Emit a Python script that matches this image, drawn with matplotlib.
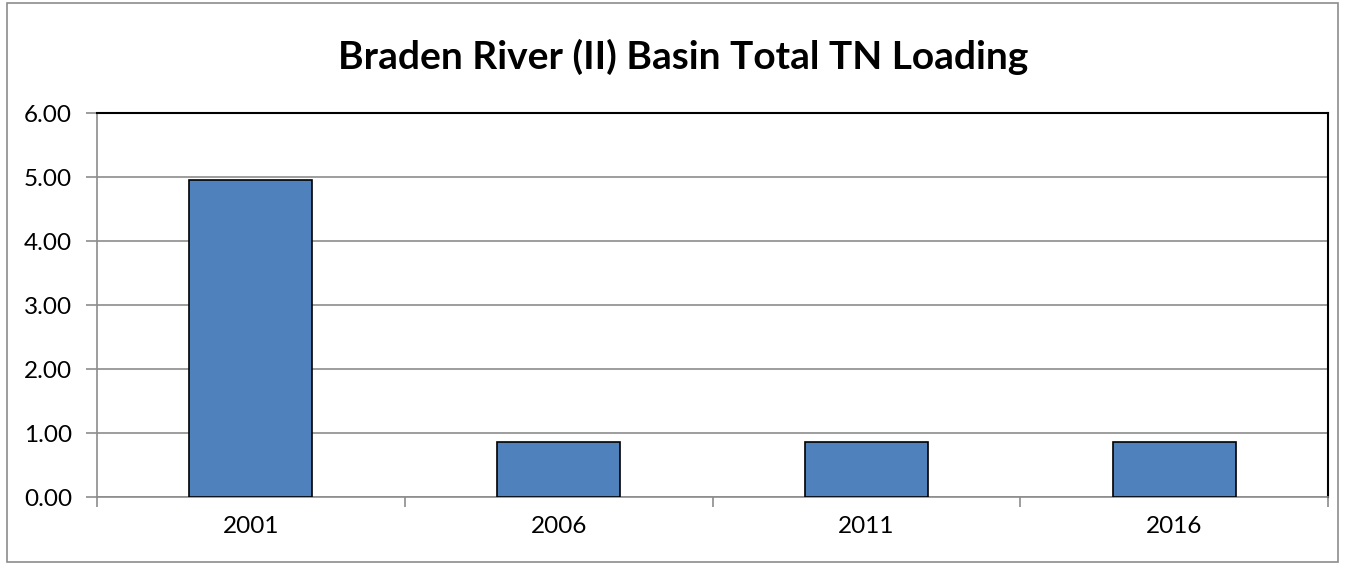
import matplotlib.pyplot as plt
from matplotlib.patches import Rectangle
import numpy as np

years = ["2001", "2006", "2011", "2016"]
tn_loading = [4.95, 0.86, 0.86, 0.86]
title = "Braden River (II) Basin Total TN Loading"

plt.rcParams["font.family"] = ["Lato", "DejaVu Sans"]

fig = plt.figure(figsize=(13.45, 5.65), dpi=100)
ax = fig.add_axes([97 / 1345, 68 / 565, 1231 / 1345, 384 / 565])

# outer chart border
fig.patches.append(Rectangle((7 / 1345, 3 / 565), 1331 / 1345, 559 / 565,
                             transform=fig.transFigure, fill=False,
                             edgecolor="#8c8c8c", linewidth=1.2))

x = np.arange(len(years))
ax.bar(x, tn_loading, 0.4, color="#4f81bd", edgecolor="black", linewidth=1.2, zorder=3)

ax.set_xlim(-0.5, len(years) - 0.5)
ax.set_ylim(0, 6)
ax.set_yticks(np.arange(0, 7, 1))
ax.set_yticklabels([f"{v:.2f}" for v in np.arange(0, 7, 1)])
ax.set_xticks(x)
ax.set_xticklabels(years)
ax.set_xticks(np.arange(-0.5, len(years)), minor=True)

ax.grid(axis="y", color="#8c8c8c", linewidth=1.2, zorder=0)
ax.tick_params(axis="x", which="major", length=0, pad=14, labelsize=17.5)
ax.tick_params(axis="x", which="minor", length=7, color="#8c8c8c", width=1.2)
ax.tick_params(axis="y", length=8, color="#8c8c8c", width=1.2, pad=10, labelsize=17.5)

for side in ["left", "bottom"]:
    ax.spines[side].set_color("#8c8c8c")
    ax.spines[side].set_linewidth(1.2)
for side in ["top", "right"]:
    ax.spines[side].set_color("black")
    ax.spines[side].set_linewidth(1.5)

fig.text(683 / 1345, 1 - 57 / 565, title, ha="center", va="center",
         fontsize=28, fontweight="bold")

fig.savefig("out.png", dpi=100)
